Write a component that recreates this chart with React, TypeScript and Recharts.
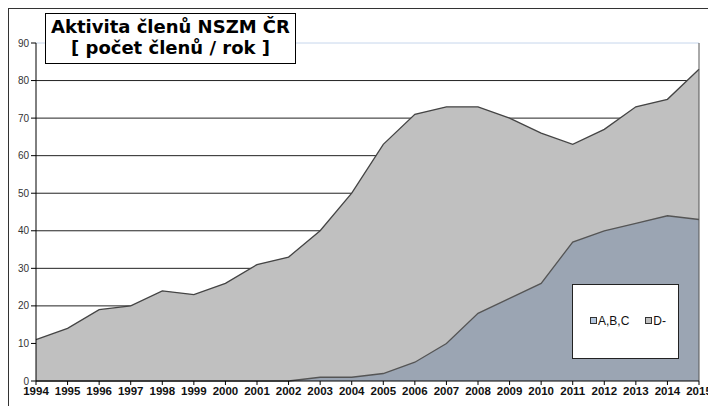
import React from 'react';
import { AreaChart, Area, XAxis, YAxis, CartesianGrid, ReferenceLine } from 'recharts';

const years = [1994, 1995, 1996, 1997, 1998, 1999, 2000, 2001, 2002, 2003, 2004, 2005, 2006, 2007, 2008, 2009, 2010, 2011, 2012, 2013, 2014, 2015];
// top outline of the grey area (all members)
const dMinus = [11, 14, 19, 20, 24, 23, 26, 31, 33, 40, 50, 63, 71, 73, 73, 70, 66, 63, 67, 73, 75, 83];
const abc = [0, 0, 0, 0, 0, 0, 0, 0, 0, 1, 1, 2, 5, 10, 18, 22, 26, 37, 40, 42, 44, 43];
const yTicks = [0, 10, 20, 30, 40, 50, 60, 70, 80, 90];

const data = years.map((year, i) => ({ year, d: dMinus[i], abc: abc[i] }));

const GREY = '#c0c0c0';
const BLUE = '#9ba5b3';

function LegendBox() {
    const item = (color: string, label: string, gap: number) => (
        <span style={{ display: 'inline-flex', alignItems: 'center', marginRight: gap }}>
            <span style={{ width: 5, height: 5, background: color, border: '1px solid #333', marginRight: 1 }} />
            <span>{label}</span>
        </span>
    );
    return (
        <div
            style={{
                position: 'absolute',
                left: 563,
                top: 275,
                width: 107,
                height: 75,
                border: '1px solid #222',
                background: '#fff',
                display: 'flex',
                alignItems: 'center',
                fontFamily: '"Liberation Sans", Arial, sans-serif',
                fontSize: 12,
                color: '#111',
                paddingLeft: 17,
                paddingBottom: 2,
                boxSizing: 'border-box',
            }}
        >
            {item('#b4c8e0', 'A,B,C', 16)}
            {item(GREY, 'D-', 0)}
        </div>
    );
}

export default function App() {
    return (
        <div
            style={{
                position: 'relative',
                width: 700,
                height: 397,
                borderTop: '1px solid #333',
                borderLeft: '1px solid #333',
                background: '#fff',
            }}
        >
            <AreaChart width={707} height={397} data={data} margin={{ top: 34, right: 17, bottom: 0, left: 7 }}>
                <XAxis
                    dataKey="year"
                    interval={0}
                    height={25}
                    tickSize={4}
                    stroke="#000"
                    tick={{ fontSize: 11.5, fontWeight: 700, fill: '#111', fontFamily: '"Liberation Sans", Arial, sans-serif' }}
                />
                <YAxis
                    domain={[0, 90]}
                    ticks={yTicks}
                    width={20}
                    tickSize={5}
                    stroke="#000"
                    tick={{ fontSize: 10, fill: '#333', fontFamily: '"Liberation Sans", Arial, sans-serif' }}
                />
                <Area
                    type="linear"
                    dataKey="d"
                    name="D-"
                    fill={GREY}
                    fillOpacity={1}
                    stroke="#444"
                    strokeWidth={1.3}
                    isAnimationActive={false}
                />
                <CartesianGrid vertical={false} stroke="#222" horizontalValues={[10, 20, 30, 40, 50, 60, 70, 80]} />
                <ReferenceLine y={90} stroke="#c6d6ec" />
                <ReferenceLine x={2015} stroke="#555" />
                <Area
                    type="linear"
                    dataKey="abc"
                    name="A,B,C"
                    fill={BLUE}
                    fillOpacity={1}
                    stroke="#555"
                    strokeWidth={1.3}
                    isAnimationActive={false}
                />
            </AreaChart>
            <LegendBox />
            <div
                style={{
                    position: 'absolute',
                    left: 36,
                    top: 4,
                    width: 251,
                    height: 51,
                    boxSizing: 'border-box',
                    border: '1.5px solid #000',
                    background: '#fff',
                    textAlign: 'center',
                    fontFamily: '"DejaVu Sans", Verdana, sans-serif',
                    fontWeight: 700,
                    fontSize: 18,
                    lineHeight: '21px',
                    paddingTop: 2,
                    color: '#000',
                }}
            >
                <div>Aktivita členů NSZM ČR</div>
                <div>[ počet členů / rok ]</div>
            </div>
        </div>
    );
}
